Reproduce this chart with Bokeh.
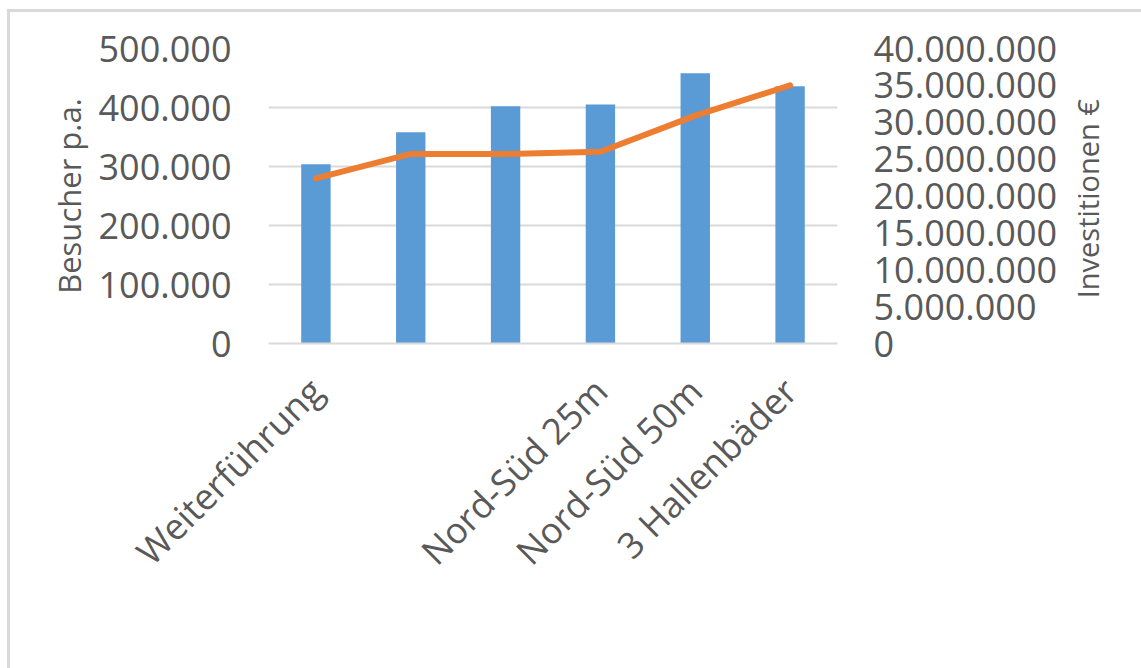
import math

from bokeh.embed import file_html
from bokeh.models import (ColumnDataSource, FixedTicker, Legend, LegendItem,
                          LinearAxis, Range1d)
from bokeh.plotting import figure
from bokeh.resources import INLINE

# --- data -------------------------------------------------------------------
categories = ["Weiterführung", "", "", "Nord-Süd 25m", "Nord-Süd 50m", "3 Hallenbäder"]
besucher = [304000, 358000, 402000, 405000, 458000, 436000]
investitionen = [22400000, 25700000, 25700000, 26000000, 30900000, 35000000]

besucher_ticks = [0, 100000, 200000, 300000, 400000, 500000]
besucher_tick_labels = ["0", "100.000", "200.000", "300.000", "400.000", "500.000"]
invest_ticks = [0, 5000000, 10000000, 15000000, 20000000, 25000000,
                30000000, 35000000, 40000000]
invest_tick_labels = ["0", "5.000.000", "10.000.000", "15.000.000", "20.000.000",
                      "25.000.000", "30.000.000", "35.000.000", "40.000.000"]

# --- styling ----------------------------------------------------------------
FONT = "Open Sans"
TEXT = "#595959"
GRID = "#D9D9D9"
BLUE = "#5B9BD5"
ORANGE = "#ED7D31"
NBSP = "\u00a0"

positions = list(range(len(categories)))
source = ColumnDataSource(dict(pos=positions, cat=categories,
                               besucher=besucher, inv=investitionen))

p = figure(width=1131, height=656, frame_width=569, frame_height=295,
           output_backend="svg", toolbar_location=None,
           x_range=Range1d(-0.5, len(categories) - 0.5),
           y_range=Range1d(0, besucher_ticks[-1]),
           min_border_left=258, min_border_right=304,
           min_border_top=36, min_border_bottom=325,
           margin=(9, 0, 0, 7),
           styles={"border-top": f"3px solid {GRID}", "border-left": f"3px solid {GRID}"})
p.extra_y_ranges = {"inv": Range1d(0, invest_ticks[-1])}
p.outline_line_color = None
p.background_fill_color = "white"
p.border_fill_color = "white"

p.xgrid.visible = False
p.ygrid.ticker = FixedTicker(ticks=besucher_ticks)
p.ygrid.grid_line_color = GRID
p.ygrid.grid_line_width = 2

bars = p.vbar(x="pos", top="besucher", width=0.31, source=source,
              fill_color=BLUE, line_color=None)
line = p.line(x="pos", y="inv", source=source, y_range_name="inv",
              line_color=ORANGE, line_width=6, line_cap="round", line_join="round")


def style_axis(ax, standoff, title_size="30px"):
    ax.major_tick_line_color = None
    ax.minor_tick_line_color = None
    ax.major_tick_out = 0
    ax.major_tick_in = 0
    ax.minor_tick_out = 0
    ax.minor_tick_in = 0
    ax.major_label_text_font = FONT
    ax.major_label_text_font_size = "36px"
    ax.major_label_text_color = TEXT
    ax.major_label_standoff = standoff
    ax.axis_label_text_font = FONT
    ax.axis_label_text_font_size = title_size
    ax.axis_label_text_font_style = "normal"
    ax.axis_label_text_color = TEXT


# left axis: visitors per year
yl = p.yaxis[0]
yl.ticker = FixedTicker(ticks=besucher_ticks)
yl.major_label_overrides = dict(zip(besucher_ticks, besucher_tick_labels))
yl.axis_line_color = None
yl.axis_label = "Besucher p.a."
yl.axis_label_standoff = 6
style_axis(yl, 37, "31px")

# right axis: investment volume, title reads bottom-to-top like the left one
yr = LinearAxis(y_range_name="inv", ticker=FixedTicker(ticks=invest_ticks))
yr.major_label_overrides = dict(zip(invest_ticks, invest_tick_labels))
yr.axis_line_color = None
yr.axis_label_standoff = 27
style_axis(yr, 36, "29px")
props = yr.properties()
if "axis_label_orientation" in props and "axis_label_align" in props:
    yr.axis_label_orientation = math.pi / 2
    yr.axis_label_align = "start"
    yr.axis_label = NBSP * 6 + "Investitionen €"
else:
    yr.axis_label = "Investitionen €"
p.add_layout(yr, "right")

# category axis with rotated labels
xa = p.xaxis[0]
xa.ticker = FixedTicker(ticks=positions)
xa.major_label_overrides = dict(zip(positions, categories))
xa.major_label_orientation = math.pi / 4
xa.axis_line_color = GRID
xa.axis_line_width = 2
style_axis(xa, 41)

# legend below the category labels, drawn on the overlay level
legend = Legend(items=[LegendItem(label="Besucher", renderers=[bars]),
                       LegendItem(label="Investitionen", renderers=[line])],
                location=(87, -301), orientation="horizontal", level="overlay",
                glyph_width=65, glyph_height=18, label_standoff=9, spacing=36,
                padding=0, margin=0, border_line_color=None,
                background_fill_alpha=0,
                label_text_font=FONT, label_text_font_size="26px",
                label_text_color=TEXT)
p.add_layout(legend)

open("out.html", "w").write(file_html(p, INLINE))
